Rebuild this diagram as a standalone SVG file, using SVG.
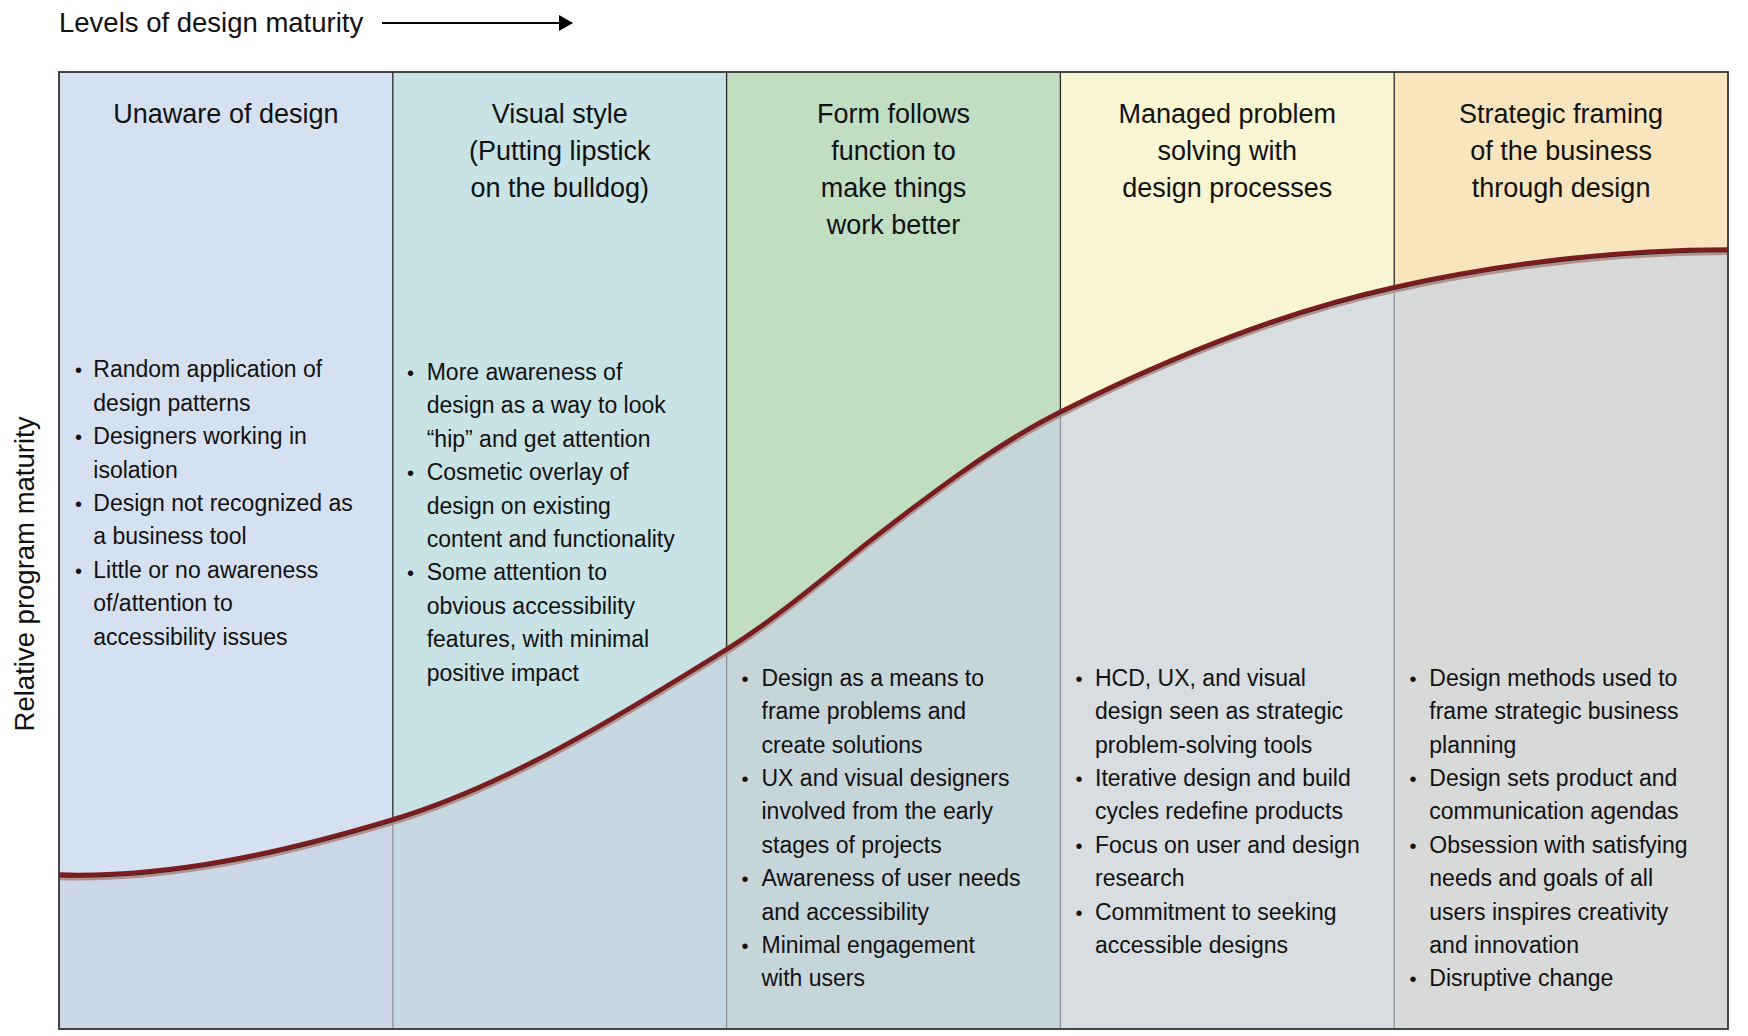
<svg xmlns="http://www.w3.org/2000/svg" width="1748" height="1036" viewBox="0 0 1748 1036">
<style>
  text { font-family: "Liberation Sans", Arial, sans-serif; fill: #111; }
  .title { font-size: 27px; text-anchor: middle; }
  .body { font-size: 23px; }
  .bul { font-size: 20px; }
  .axis { font-size: 27.5px; }
  .divTop { stroke: #2a2a2a; stroke-width: 1.3; }
  .divBot { stroke: #8e9295; stroke-width: 1.3; }
</style>
<defs>
  <path id="curvePath" d="M59,874.5 C170,877.8 282,852.6 392.8,819.3 C504,786 616,718 726.6,649 C773.7,620 820.3,580.4 867,543 C931.3,492.8 995.7,444 1060.4,411.7 C1171.3,356 1282.7,311.5 1394.2,287 C1505.3,262.5 1616.7,249.5 1728,249.3"/>
  <clipPath id="under">
    <path d="M59,874.5 C170,877.8 282,852.6 392.8,819.3 C504,786 616,718 726.6,649 C773.7,620 820.3,580.4 867,543 C931.3,492.8 995.7,444 1060.4,411.7 C1171.3,356 1282.7,311.5 1394.2,287 C1505.3,262.5 1616.7,249.5 1728,249.3 L1728,1029 L59,1029 Z"/>
  </clipPath>
  <marker id="arrowHead" viewBox="0 0 14 16" refX="13" refY="8" markerWidth="14" markerHeight="16" markerUnits="userSpaceOnUse" orient="auto">
    <path d="M0,0 L14,8 L0,16 Z" fill="#000"/>
  </marker>
</defs>

<rect x="0" y="0" width="1748" height="1036" fill="#ffffff"/>

<!-- Column backgrounds (upper colours) -->
<g id="col1">
  <rect x="59" y="72" width="333.8" height="957" fill="#d5e1f1"/>
</g>
<g id="col2">
  <rect x="392.8" y="72" width="333.8" height="957" fill="#c9e2e6"/>
</g>
<g id="col3">
  <rect x="726.6" y="72" width="333.8" height="957" fill="#c1ddc2"/>
</g>
<g id="col4">
  <rect x="1060.4" y="72" width="333.8" height="957" fill="#f9f5d2"/>
</g>
<g id="col5">
  <rect x="1394.2" y="72" width="333.8" height="957" fill="#f8e4bd"/>
</g>

<!-- Area below the maturity curve -->
<g id="underArea" clip-path="url(#under)">
  <rect x="59" y="72" width="333.8" height="957" fill="#ccd7e8"/>
  <rect x="392.8" y="72" width="333.8" height="957" fill="#c6d7e1"/>
  <rect x="726.6" y="72" width="333.8" height="957" fill="#c6d5da"/>
  <rect x="1060.4" y="72" width="333.8" height="957" fill="#d7dde0"/>
  <rect x="1394.2" y="72" width="333.8" height="957" fill="#d8d9d9"/>
</g>

<!-- Column dividers -->
<g id="dividers">
  <line class="divTop" x1="392.8" y1="72" x2="392.8" y2="819"/>
  <line class="divBot" x1="392.8" y1="819" x2="392.8" y2="1029"/>
  <line class="divTop" x1="726.6" y1="72" x2="726.6" y2="649"/>
  <line class="divBot" x1="726.6" y1="649" x2="726.6" y2="1029"/>
  <line class="divTop" x1="1060.4" y1="72" x2="1060.4" y2="411.7"/>
  <line class="divBot" x1="1060.4" y1="411.7" x2="1060.4" y2="1029"/>
  <line class="divTop" x1="1394.2" y1="72" x2="1394.2" y2="287"/>
  <line class="divBot" x1="1394.2" y1="287" x2="1394.2" y2="1029"/>
</g>

<!-- Maturity curve -->
<g id="connectors">
  <use href="#curvePath" transform="translate(0,4)" fill="none" stroke="#b4918f" stroke-width="3.4"/>
  <use href="#curvePath" transform="translate(0,2.2)" fill="none" stroke="#2e2626" stroke-width="1.4"/>
  <use href="#curvePath" fill="none" stroke="#7b1c1f" stroke-width="4.3"/>
  <line x1="382" y1="23" x2="572" y2="23" stroke="#000" stroke-width="2" marker-end="url(#arrowHead)"/>
</g>

<!-- Outer frame -->
<rect x="59" y="72" width="1669" height="957" fill="none" stroke="#333" stroke-width="1.8"/>

<!-- Axis labels -->
<g id="axisLabels">
  <text class="axis" x="59" y="32">Levels of design maturity</text>
  <text class="axis" transform="translate(34,574) rotate(-90)" text-anchor="middle">Relative program maturity</text>
</g>

<!-- Column 1 text -->
<g id="col1-text">
  <text class="title" x="225.9" y="122.5">Unaware of design</text>
  <text class="body">
    <tspan x="93.3" y="377.3">Random application of</tspan>
    <tspan x="93.3" dy="33.4">design patterns</tspan>
    <tspan x="93.3" dy="33.4">Designers working in</tspan>
    <tspan x="93.3" dy="33.4">isolation</tspan>
    <tspan x="93.3" dy="33.4">Design not recognized as</tspan>
    <tspan x="93.3" dy="33.4">a business tool</tspan>
    <tspan x="93.3" dy="33.4">Little or no awareness</tspan>
    <tspan x="93.3" dy="33.4">of/attention to</tspan>
    <tspan x="93.3" dy="33.4">accessibility issues</tspan>
  </text>
  <text class="bul">
    <tspan x="75" y="377.3">•</tspan>
    <tspan x="75" y="444.1">•</tspan>
    <tspan x="75" y="510.9">•</tspan>
    <tspan x="75" y="577.7">•</tspan>
  </text>
</g>

<!-- Column 2 text -->
<g id="col2-text">
  <text class="title" x="559.7" y="122.5">Visual style</text>
  <text class="title" x="559.7" y="159.5">(Putting lipstick</text>
  <text class="title" x="559.7" y="196.5">on the bulldog)</text>
  <text class="body">
    <tspan x="426.7" y="380">More awareness of</tspan>
    <tspan x="426.7" dy="33.4">design as a way to look</tspan>
    <tspan x="426.7" dy="33.4">“hip” and get attention</tspan>
    <tspan x="426.7" dy="33.4">Cosmetic overlay of</tspan>
    <tspan x="426.7" dy="33.4">design on existing</tspan>
    <tspan x="426.7" dy="33.4">content and functionality</tspan>
    <tspan x="426.7" dy="33.4">Some attention to</tspan>
    <tspan x="426.7" dy="33.4">obvious accessibility</tspan>
    <tspan x="426.7" dy="33.4">features, with minimal</tspan>
    <tspan x="426.7" dy="33.4">positive impact</tspan>
  </text>
  <text class="bul">
    <tspan x="407" y="380">•</tspan>
    <tspan x="407" y="480.2">•</tspan>
    <tspan x="407" y="580.4">•</tspan>
  </text>
</g>

<!-- Column 3 text -->
<g id="col3-text">
  <text class="title" x="893.5" y="122.5">Form follows</text>
  <text class="title" x="893.5" y="159.5">function to</text>
  <text class="title" x="893.5" y="196.5">make things</text>
  <text class="title" x="893.5" y="233.5">work better</text>
  <text class="body">
    <tspan x="761.5" y="685.7">Design as a means to</tspan>
    <tspan x="761.5" dy="33.4">frame problems and</tspan>
    <tspan x="761.5" dy="33.4">create solutions</tspan>
    <tspan x="761.5" dy="33.4">UX and visual designers</tspan>
    <tspan x="761.5" dy="33.4">involved from the early</tspan>
    <tspan x="761.5" dy="33.4">stages of projects</tspan>
    <tspan x="761.5" dy="33.4">Awareness of user needs</tspan>
    <tspan x="761.5" dy="33.4">and accessibility</tspan>
    <tspan x="761.5" dy="33.4">Minimal engagement</tspan>
    <tspan x="761.5" dy="33.4">with users</tspan>
  </text>
  <text class="bul">
    <tspan x="741.5" y="685.7">•</tspan>
    <tspan x="741.5" y="785.9">•</tspan>
    <tspan x="741.5" y="886.1">•</tspan>
    <tspan x="741.5" y="952.9">•</tspan>
  </text>
</g>

<!-- Column 4 text -->
<g id="col4-text">
  <text class="title" x="1227.3" y="122.5">Managed problem</text>
  <text class="title" x="1227.3" y="159.5">solving with</text>
  <text class="title" x="1227.3" y="196.5">design processes</text>
  <text class="body">
    <tspan x="1095" y="685.7">HCD, UX, and visual</tspan>
    <tspan x="1095" dy="33.4">design seen as strategic</tspan>
    <tspan x="1095" dy="33.4">problem-solving tools</tspan>
    <tspan x="1095" dy="33.4">Iterative design and build</tspan>
    <tspan x="1095" dy="33.4">cycles redefine products</tspan>
    <tspan x="1095" dy="33.4">Focus on user and design</tspan>
    <tspan x="1095" dy="33.4">research</tspan>
    <tspan x="1095" dy="33.4">Commitment to seeking</tspan>
    <tspan x="1095" dy="33.4">accessible designs</tspan>
  </text>
  <text class="bul">
    <tspan x="1075.5" y="685.7">•</tspan>
    <tspan x="1075.5" y="785.9">•</tspan>
    <tspan x="1075.5" y="852.7">•</tspan>
    <tspan x="1075.5" y="919.5">•</tspan>
  </text>
</g>

<!-- Column 5 text -->
<g id="col5-text">
  <text class="title" x="1561.1" y="122.5">Strategic framing</text>
  <text class="title" x="1561.1" y="159.5">of the business</text>
  <text class="title" x="1561.1" y="196.5">through design</text>
  <text class="body">
    <tspan x="1429.3" y="685.7">Design methods used to</tspan>
    <tspan x="1429.3" dy="33.4">frame strategic business</tspan>
    <tspan x="1429.3" dy="33.4">planning</tspan>
    <tspan x="1429.3" dy="33.4">Design sets product and</tspan>
    <tspan x="1429.3" dy="33.4">communication agendas</tspan>
    <tspan x="1429.3" dy="33.4">Obsession with satisfying</tspan>
    <tspan x="1429.3" dy="33.4">needs and goals of all</tspan>
    <tspan x="1429.3" dy="33.4">users inspires creativity</tspan>
    <tspan x="1429.3" dy="33.4">and innovation</tspan>
    <tspan x="1429.3" dy="33.4">Disruptive change</tspan>
  </text>
  <text class="bul">
    <tspan x="1409.5" y="685.7">•</tspan>
    <tspan x="1409.5" y="785.9">•</tspan>
    <tspan x="1409.5" y="852.7">•</tspan>
    <tspan x="1409.5" y="986.3">•</tspan>
  </text>
</g>
</svg>
